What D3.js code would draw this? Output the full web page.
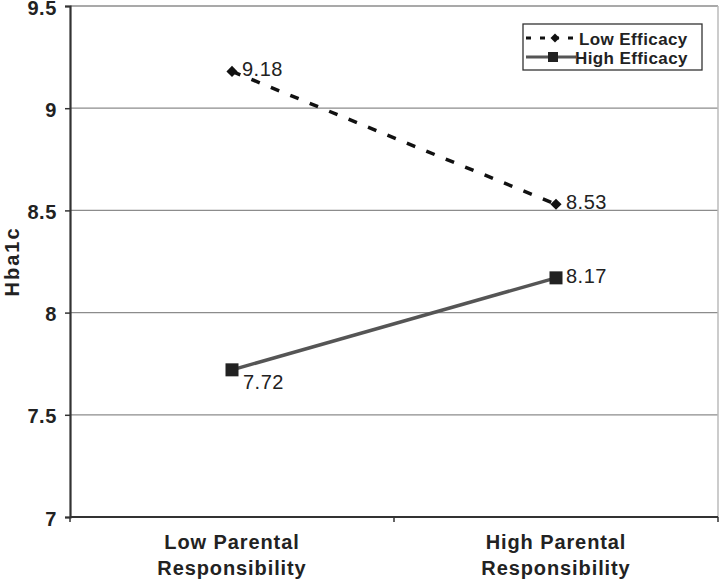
<!DOCTYPE html>
<html><head><meta charset="utf-8">
<script src="https://cdn.jsdelivr.net/npm/d3@7"></script>
<style>body{margin:0;background:#fff}svg{display:block;font-family:"Liberation Sans",Arial,sans-serif}</style>
</head><body><svg id="c" width="720" height="580"></svg>
<script>
const categories = [["Low Parental","Responsibility"],["High Parental","Responsibility"]];
const seriesNames = ["Low Efficacy","High Efficacy"];
const lowEfficacy = [9.18, 8.53];
const highEfficacy = [7.72, 8.17];
const yTicks = [7, 7.5, 8, 8.5, 9, 9.5];
const yTickLabels = ["7","7.5","8","8.5","9","9.5"];

const svg = d3.select("#c");
const m = {l:70, r:718, t:6, b:517};
const x = d3.scaleBand().domain([0,1]).range([m.l, m.r]);
const y = d3.scaleLinear().domain([7, 9.5]).range([m.b, m.t]);
const cx = i => x(i) + x.bandwidth()/2;
const wide = "scale(1.1,1)";

// gridlines
svg.append("g").selectAll("line").data(yTicks.filter(t=>t>7)).join("line")
  .attr("x1", m.l).attr("x2", m.r).attr("y1", d=>y(d)).attr("y2", d=>y(d))
  .attr("stroke", "#8c8c8c").attr("stroke-width", 1.3);
// right border
svg.append("line").attr("x1", m.r).attr("x2", m.r).attr("y1", m.t).attr("y2", m.b)
  .attr("stroke", "#bbb").attr("stroke-width", 1.5);

// y axis
const ya = svg.append("g").attr("transform", `translate(${m.l},0)`)
  .call(d3.axisLeft(y).tickValues(yTicks).tickFormat((d,i)=>yTickLabels[i]).tickSize(5).tickPadding(8));
ya.select(".domain").attr("stroke", "#333").attr("stroke-width", 2.2);
ya.selectAll(".tick line").attr("stroke", "#333").attr("stroke-width", 1.5);
ya.selectAll(".tick text").attr("font-size", 20).attr("font-weight", "bold").attr("fill", "#222")
  .attr("dy", "0.4em").attr("letter-spacing", 0.6)
  .attr("font-family", "Liberation Sans, Arial, sans-serif");

// x axis
const xa = svg.append("g").attr("transform", `translate(0,${m.b})`);
xa.append("line").attr("x1", m.l).attr("x2", m.r).attr("stroke", "#333").attr("stroke-width", 2.2);
xa.selectAll("line.t").data([m.l, (m.l+m.r)/2, m.r]).join("line").attr("class","t")
  .attr("x1", d=>d).attr("x2", d=>d).attr("y1", 0).attr("y2", 5).attr("stroke", "#333").attr("stroke-width", 1.5);
categories.forEach((c,i)=>{
  const t = xa.append("text").attr("x", cx(i)).attr("y", 32).attr("text-anchor","middle")
    .attr("font-size", 20).attr("font-weight","bold").attr("fill","#222").attr("letter-spacing", 0.9);
  t.append("tspan").attr("x", cx(i)).attr("dy", 0).text(c[0]);
  t.append("tspan").attr("x", cx(i)).attr("dy", 26).text(c[1]);
});

// y title
svg.append("text").attr("transform", `translate(19,${(m.t+m.b)/2}) rotate(-90)`)
  .attr("text-anchor","middle").attr("font-size", 20).attr("font-weight","bold").attr("fill","#222")
  .attr("letter-spacing", 2).text("Hba1c");

const line = d3.line().x((d,i)=>cx(i)).y(d=>y(d));
svg.append("path").datum(lowEfficacy).attr("d", line).attr("fill","none")
  .attr("stroke","#111").attr("stroke-width", 3.5).attr("stroke-dasharray","9,12");
svg.append("path").datum(highEfficacy).attr("d", line).attr("fill","none")
  .attr("stroke","#555").attr("stroke-width", 3.5);

const diamond = d3.symbol().type(d3.symbolSquare).size(62);
svg.selectAll("path.dm").data(lowEfficacy).join("path").attr("class","dm")
  .attr("d", diamond).attr("transform", (d,i)=>`translate(${cx(i)},${y(d)}) rotate(45)`).attr("fill","#111");
svg.selectAll("rect.sq").data(highEfficacy).join("rect").attr("class","sq")
  .attr("x",(d,i)=>cx(i)-6.5).attr("y", d=>y(d)-6.5).attr("width",13).attr("height",13).attr("fill","#222");

// data labels
svg.selectAll("text.ll").data(lowEfficacy).join("text").attr("class","ll")
  .attr("x",(d,i)=>cx(i)+10).attr("y", d=>y(d)+5).attr("font-size",20).attr("letter-spacing",0.5).attr("fill","#222").text(d=>d.toFixed(2));
svg.selectAll("text.hl").data(highEfficacy).join("text").attr("class","hl")
  .attr("x",(d,i)=>i===0?cx(i)+11:cx(i)+10).attr("y",(d,i)=> i===0 ? y(d)+19 : y(d)+5)
  .attr("font-size",20).attr("letter-spacing",0.5).attr("fill","#222").text(d=>d.toFixed(2));

// legend
const lg = svg.append("g").attr("transform","translate(523,24)");
lg.append("rect").attr("width",179).attr("height",46).attr("fill","#fff").attr("stroke","#333").attr("stroke-width",1.3);
lg.append("line").attr("x1",3).attr("x2",52).attr("y1",14).attr("y2",14).attr("stroke","#111").attr("stroke-width",3).attr("stroke-dasharray","5,9");
lg.append("path").attr("d", d3.symbol().type(d3.symbolSquare).size(40)).attr("transform","translate(32,14) rotate(45)").attr("fill","#111");
lg.append("line").attr("x1",3).attr("x2",53).attr("y1",33).attr("y2",33).attr("stroke","#555").attr("stroke-width",3);
lg.append("rect").attr("x",25).attr("y",28).attr("width",10).attr("height",10).attr("fill","#222");
lg.selectAll("text").data(seriesNames).join("text").attr("x",(d,i)=>i===0?56:52).attr("y",(d,i)=>21+i*18.5)
  .attr("font-size",17).attr("font-weight","bold").attr("letter-spacing",0.4).attr("fill","#222").text(d=>d);
</script></body></html>
